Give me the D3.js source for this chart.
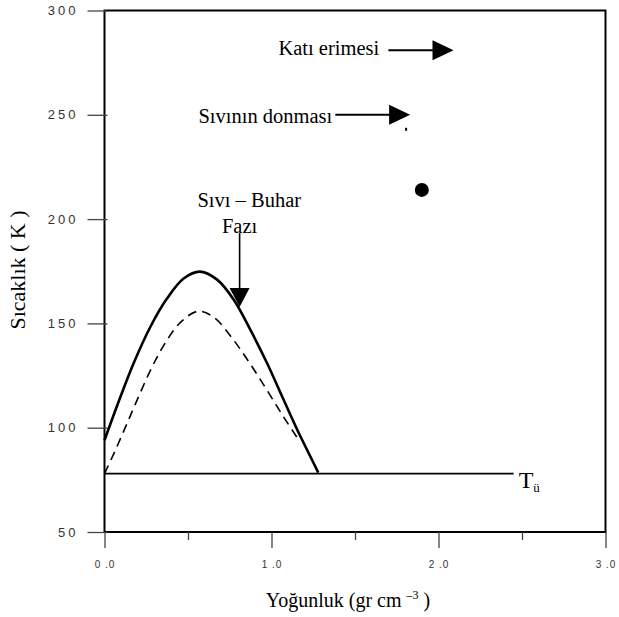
<!DOCTYPE html>
<html>
<head>
<meta charset="utf-8">
<script src="https://cdn.jsdelivr.net/npm/d3@7"></script>
<style>
  html, body { margin: 0; padding: 0; background: #fff; }
  svg { display: block; }
</style>
</head>
<body>
<svg id="chart" width="619" height="617"></svg>
<script>
// ---- data ----
const xTicks = [0, 1, 2, 3];
const xTickLabels = ["0 .0", "1 .0", "2 .0", "3 .0"];
const xMinorTicks = [0.5, 1.5, 2.5];
const yTicks = [50, 100, 150, 200, 250, 300];
const yTickLabels = ["50", "100", "150", "200", "250", "300"];

// coexistence curve (solid)
const solidX = [0, 0.08, 0.175, 0.275, 0.375, 0.474, 0.57, 0.674, 0.773, 0.873, 0.973, 1.072, 1.172, 1.28];
const solidY = [94, 111.5, 131, 148.4, 162, 171.5, 174.8, 171, 161.5, 147, 131, 113.5, 96, 78.5];
// dashed curve
const dashX = [0, 0.056, 0.126, 0.195, 0.275, 0.355, 0.455, 0.56, 0.654, 0.773, 0.873, 0.973, 1.072, 1.16];
const dashY = [78, 87.6, 100.4, 113.2, 127.5, 139.5, 150.5, 155.8, 153, 142, 130.5, 118, 105.2, 94.5];

// triple point line
const tripleY = 78;
const tripleXEnd = 2.45;
// isolated point
const dotX = [1.9];
const dotY = [214];

// annotations (data units)
const annTexts = ["Katı erimesi", "Sıvının donması"];
const annTextX = [1.645, 1.364];
const annTextY = [278.7, 246];
const arrowX1 = [1.70, 1.382];
const arrowX2 = [2.09, 1.83];
const arrowY = [281, 250];

const phaseLines = ["Sıvı – Buhar", "Fazı"];
const phaseX = [0.867, 0.809];
const phaseY = [205.8, 193.3];
const vArrowX = 0.809;
const vArrowY1 = 193.3;
const vArrowY2 = 157.9;

// ---- layout ----
const svg = d3.select("#chart");
const x = d3.scaleLinear().domain([0, 3]).range([104.5, 605.5]);
const y = d3.scaleLinear().domain([50, 300]).range([532, 10.5]);

const serif = "'Liberation Serif','Times New Roman',serif";
const sans = "'Liberation Sans',Arial,sans-serif";

// frame
svg.append("rect")
  .attr("x", x(0)).attr("y", y(300))
  .attr("width", x(3) - x(0)).attr("height", y(50) - y(300))
  .attr("fill", "none").attr("stroke", "#000").attr("stroke-width", 2);

// y axis
const yAxis = d3.axisLeft(y).tickValues(yTicks)
  .tickFormat((d, i) => yTickLabels[i]).tickSize(20).tickPadding(9);
const gy = svg.append("g").attr("transform", `translate(${x(0) + 3},0)`).call(yAxis);
gy.select(".domain").remove();
gy.selectAll(".tick line").attr("stroke", "#444").attr("stroke-width", 1.3);
gy.selectAll(".tick text").attr("font-family", sans).attr("font-size", 13)
  .attr("letter-spacing", "3px").attr("fill", "#333");

// x axis
const xAxis = d3.axisBottom(x).tickValues(xTicks)
  .tickFormat((d, i) => xTickLabels[i]).tickSize(16).tickPadding(13);
const gx = svg.append("g").attr("transform", `translate(0,${y(50)})`).call(xAxis);
gx.select(".domain").remove();
gx.selectAll(".tick line").attr("stroke", "#444").attr("stroke-width", 1.3);
gx.selectAll(".tick text").attr("font-family", sans).attr("font-size", 10)
  .attr("letter-spacing", "1px").attr("fill", "#333");

const gxm = svg.append("g").attr("transform", `translate(0,${y(50)})`)
  .call(d3.axisBottom(x).tickValues(xMinorTicks).tickSize(8).tickFormat(""));
gxm.select(".domain").remove();
gxm.selectAll(".tick line").attr("stroke", "#444").attr("stroke-width", 1.3);

// axis titles
svg.append("text")
  .attr("transform", `translate(25,270) rotate(-90)`)
  .attr("text-anchor", "middle")
  .attr("font-family", serif).attr("font-size", 22)
  .text("Sıcaklık ( K )");

const xt = svg.append("text")
  .attr("x", 348).attr("y", 607)
  .attr("text-anchor", "middle")
  .attr("font-family", serif).attr("font-size", 20);
xt.append("tspan").text("Yoğunluk (gr cm ");
xt.append("tspan").attr("font-size", 12).attr("dy", -8).text("–3");
xt.append("tspan").attr("dy", 8).text(" )");

// curves
const line = d3.line().x(d => x(d[0])).y(d => y(d[1])).curve(d3.curveCatmullRom.alpha(0.5));
svg.append("path")
  .datum(solidX.map((v, i) => [v, solidY[i]]))
  .attr("d", line).attr("fill", "none").attr("stroke", "#000").attr("stroke-width", 2.6);
svg.append("path")
  .datum(dashX.map((v, i) => [v, dashY[i]]))
  .attr("d", line).attr("fill", "none").attr("stroke", "#000").attr("stroke-width", 1.6)
  .attr("stroke-dasharray", "9,6");

// triple line
svg.append("line")
  .attr("x1", x(0)).attr("x2", x(tripleXEnd))
  .attr("y1", y(tripleY)).attr("y2", y(tripleY))
  .attr("stroke", "#000").attr("stroke-width", 1.6);
const tl = svg.append("text")
  .attr("x", x(tripleXEnd) + 5).attr("y", y(tripleY) + 14)
  .attr("font-family", serif).attr("font-size", 24);
tl.append("tspan").text("T");
tl.append("tspan").attr("font-size", 13).attr("dy", 4).text("ü");

// dot
svg.selectAll("circle.dot").data(dotX).enter().append("circle")
  .attr("cx", (d, i) => x(d)).attr("cy", (d, i) => y(dotY[i])).attr("r", 7).attr("fill", "#000");

// horizontal arrows
function hArrow(x1, x2, yy) {
  const X1 = x(x1), X2 = x(x2), Y = y(yy);
  svg.append("line").attr("x1", X1).attr("x2", X2 - 18).attr("y1", Y).attr("y2", Y)
    .attr("stroke", "#000").attr("stroke-width", 2);
  svg.append("path").attr("d", `M${X2},${Y} L${X2 - 21},${Y - 10} L${X2 - 21},${Y + 10} Z`)
    .attr("fill", "#000");
}
annTexts.forEach((t, i) => {
  svg.append("text").attr("x", x(annTextX[i])).attr("y", y(annTextY[i]))
    .attr("text-anchor", "end").attr("font-family", serif).attr("font-size", 20.5).text(t);
  hArrow(arrowX1[i], arrowX2[i], arrowY[i]);
});
// small mark under second arrow
svg.append("line").attr("x1", x(arrowX2[1]) - 4).attr("x2", x(arrowX2[1]) - 4)
  .attr("y1", y(arrowY[1]) + 13).attr("y2", y(arrowY[1]) + 16)
  .attr("stroke", "#000").attr("stroke-width", 2);

// phase label and vertical arrow
phaseLines.forEach((t, i) => {
  svg.append("text").attr("x", x(phaseX[i])).attr("y", i === 0 ? y(phaseY[0]) : y(phaseY[0]) + 26)
    .attr("text-anchor", "middle").attr("font-family", serif).attr("font-size", 20.5).text(t);
});
{
  const X = x(vArrowX), Y1 = y(vArrowY1), Y2 = y(vArrowY2);
  svg.append("line").attr("x1", X).attr("x2", X).attr("y1", Y1).attr("y2", Y2 - 17)
    .attr("stroke", "#000").attr("stroke-width", 1.6);
  svg.append("path").attr("d", `M${X},${Y2} L${X - 10},${Y2 - 19} L${X + 10},${Y2 - 19} Z`)
    .attr("fill", "#000");
}
</script>
</body>
</html>
